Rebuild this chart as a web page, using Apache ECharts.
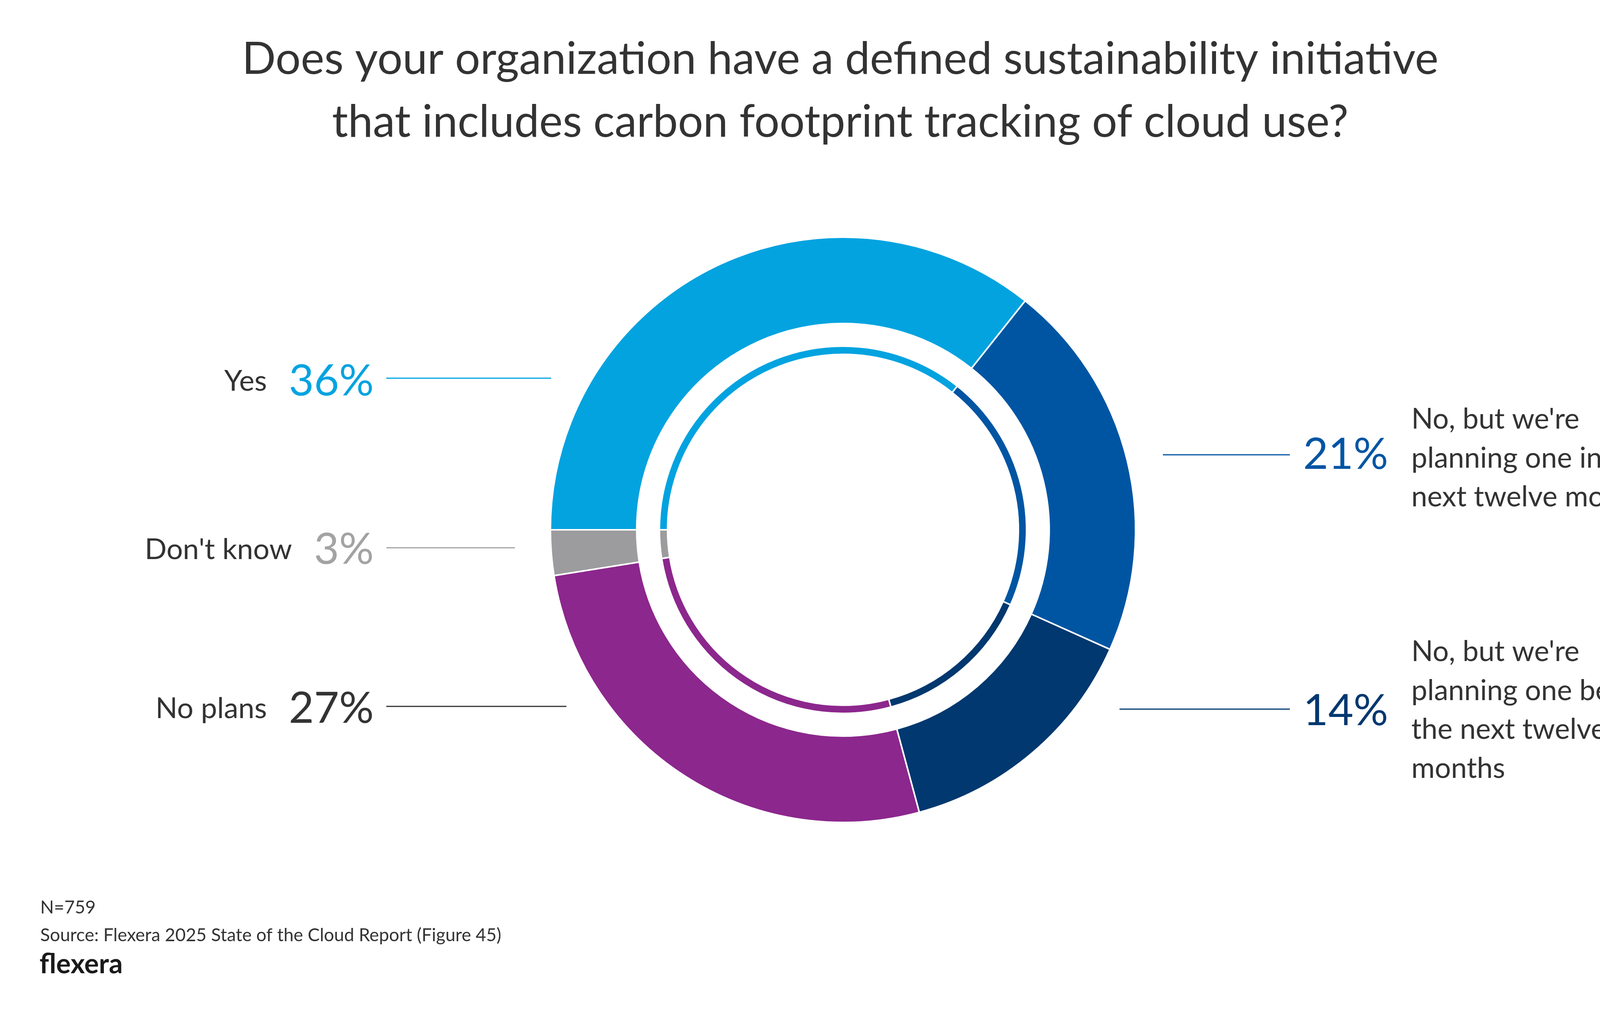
<!DOCTYPE html>
<html><head><meta charset="utf-8">
<script src="https://cdn.jsdelivr.net/npm/echarts@6/dist/echarts.min.js"></script>
<style>html,body{margin:0;padding:0;background:#fff;}#c{width:4414px;height:2603px;}</style>
</head><body><div id="c"></div>
<script>
// ---- data ----
const categories = ['Yes', "No, but we're planning one in the next twelve months", "No, but we're planning one beyond the next twelve months", 'No plans', "Don't know"];
const shortNames = ['Yes', '', '', 'No plans', "Don't know"];
const descLines = [null, ["No, but we're", 'planning one in the', 'next twelve months'], ["No, but we're", 'planning one beyond', 'the next twelve', 'months'], null, null];
const values = [35.7, 21.0, 14.1, 26.7, 2.5];
const titleText = 'Does your organization have a defined sustainability initiative\nthat includes carbon footprint tracking of cloud use?';
const noteN = 'N=759';
const noteSource = 'Source: Flexera 2025 State of the Cloud Report (Figure 45)';
const logoText = 'flexera';

// ---- style ----
const sliceColors = ['#03A3E0', '#0055A3', '#00386F', '#8C278D', '#9C9C9E'];
const pctColors = ['#03A3E0', '#0055A3', '#00386F', '#333333', '#A3A3A5'];
const FONT = 'Lato';
const TXT = '#333333';
const CX = 2158, CY = 1356;
const LAYOUT = [
  {side: 'left', labelY: 976, lineY: 968, x0: 1411, x1: 989},
  {side: 'right', labelY: 1164, lineY: 1164, x0: 2977, x1: 3302, descY: 1173},
  {side: 'right', labelY: 1820, lineY: 1815, x0: 2866, x1: 3302, descY: 1818},
  {side: 'left', labelY: 1814, lineY: 1808, x0: 1450, x1: 989},
  {side: 'left', labelY: 1407, lineY: 1402, x0: 1318, x1: 989}
];
const LEFT_X = 957, PCT_RIGHT_X = 3336, DESC_X = 3613;

const rich = {
  n: {fontFamily: FONT, fontSize: 74, color: TXT},
  g: {width: 56},
  d: {fontFamily: FONT, fontSize: 73, color: TXT, lineHeight: 99.5}
};
pctColors.forEach((c, i) => { rich['p' + i] = {fontFamily: FONT, fontSize: 111, color: c}; });

const outerData = categories.map((name, i) => ({
  name: name,
  value: values[i],
  itemStyle: {color: sliceColors[i]},
  labelLine: {lineStyle: {color: pctColors[i], width: 3}}
}));
const innerData = categories.map((name, i) => ({
  name: name,
  value: values[i],
  itemStyle: {color: sliceColors[i]},
  label: {show: !!descLines[i]}
}));

const chart = echarts.init(document.getElementById('c'), null, {renderer: 'canvas'});
chart.setOption({
  animation: false,
  backgroundColor: '#ffffff',
  textStyle: {fontFamily: FONT},
  title: [
    {text: titleText, left: 2146, top: 67, textAlign: 'center',
     textStyle: {fontFamily: FONT, fontSize: 114, fontWeight: 'normal', color: TXT, lineHeight: 161}},
    {text: noteN, left: 98, top: 2295, textStyle: {fontFamily: FONT, fontSize: 46, fontWeight: 'normal', color: TXT}},
    {text: noteSource, left: 98, top: 2366, textStyle: {fontFamily: FONT, fontSize: 46, fontWeight: 'normal', color: TXT}},
    {text: logoText, left: 96, top: 2428, textStyle: {fontFamily: FONT, fontSize: 70, fontWeight: 'bold', color: '#1a1a1a'}}
  ],
  series: [
    {
      type: 'pie', name: 'outer', center: [CX, CY], radius: [528, 749],
      startAngle: 180, clockwise: true, avoidLabelOverlap: false,
      silent: true,
      itemStyle: {borderColor: '#ffffff', borderWidth: 4},
      label: {
        show: true, position: 'outside',
        formatter: function (p) {
          const i = p.dataIndex;
          const pct = Math.round(p.value) + '%';
          if (LAYOUT[i].side === 'left') return '{n|' + shortNames[i] + '}{g|}{p' + i + '|' + pct + '}';
          return '{p' + i + '|' + pct + '}';
        },
        rich: rich
      },
      labelLine: {show: true, length: 10, length2: 10, lineStyle: {width: 3}},
      labelLayout: function (p) {
        const L = LAYOUT[p.dataIndex];
        return {
          x: L.side === 'left' ? LEFT_X : PCT_RIGHT_X,
          y: L.labelY,
          align: L.side === 'left' ? 'right' : 'left',
          verticalAlign: 'middle',
          labelLinePoints: [[L.x0, L.lineY], [(L.x0 + L.x1) / 2, L.lineY], [L.x1, L.lineY]]
        };
      },
      data: outerData
    },
    {
      type: 'pie', name: 'inner', center: [CX, CY], radius: [449, 470],
      startAngle: 180, clockwise: true, avoidLabelOverlap: false,
      silent: true,
      itemStyle: {borderColor: '#ffffff', borderWidth: 4},
      label: {
        show: true, position: 'outside',
        formatter: function (p) {
          const d = descLines[p.dataIndex];
          return d ? d.map(s => '{d|' + s + '}').join('\n') : '';
        },
        rich: rich
      },
      labelLine: {show: false},
      labelLayout: function (p) {
        const L = LAYOUT[p.dataIndex];
        return {x: DESC_X, y: L.descY || L.labelY, align: 'left', verticalAlign: 'middle'};
      },
      data: innerData
    }
  ]
});
</script>
</body></html>
